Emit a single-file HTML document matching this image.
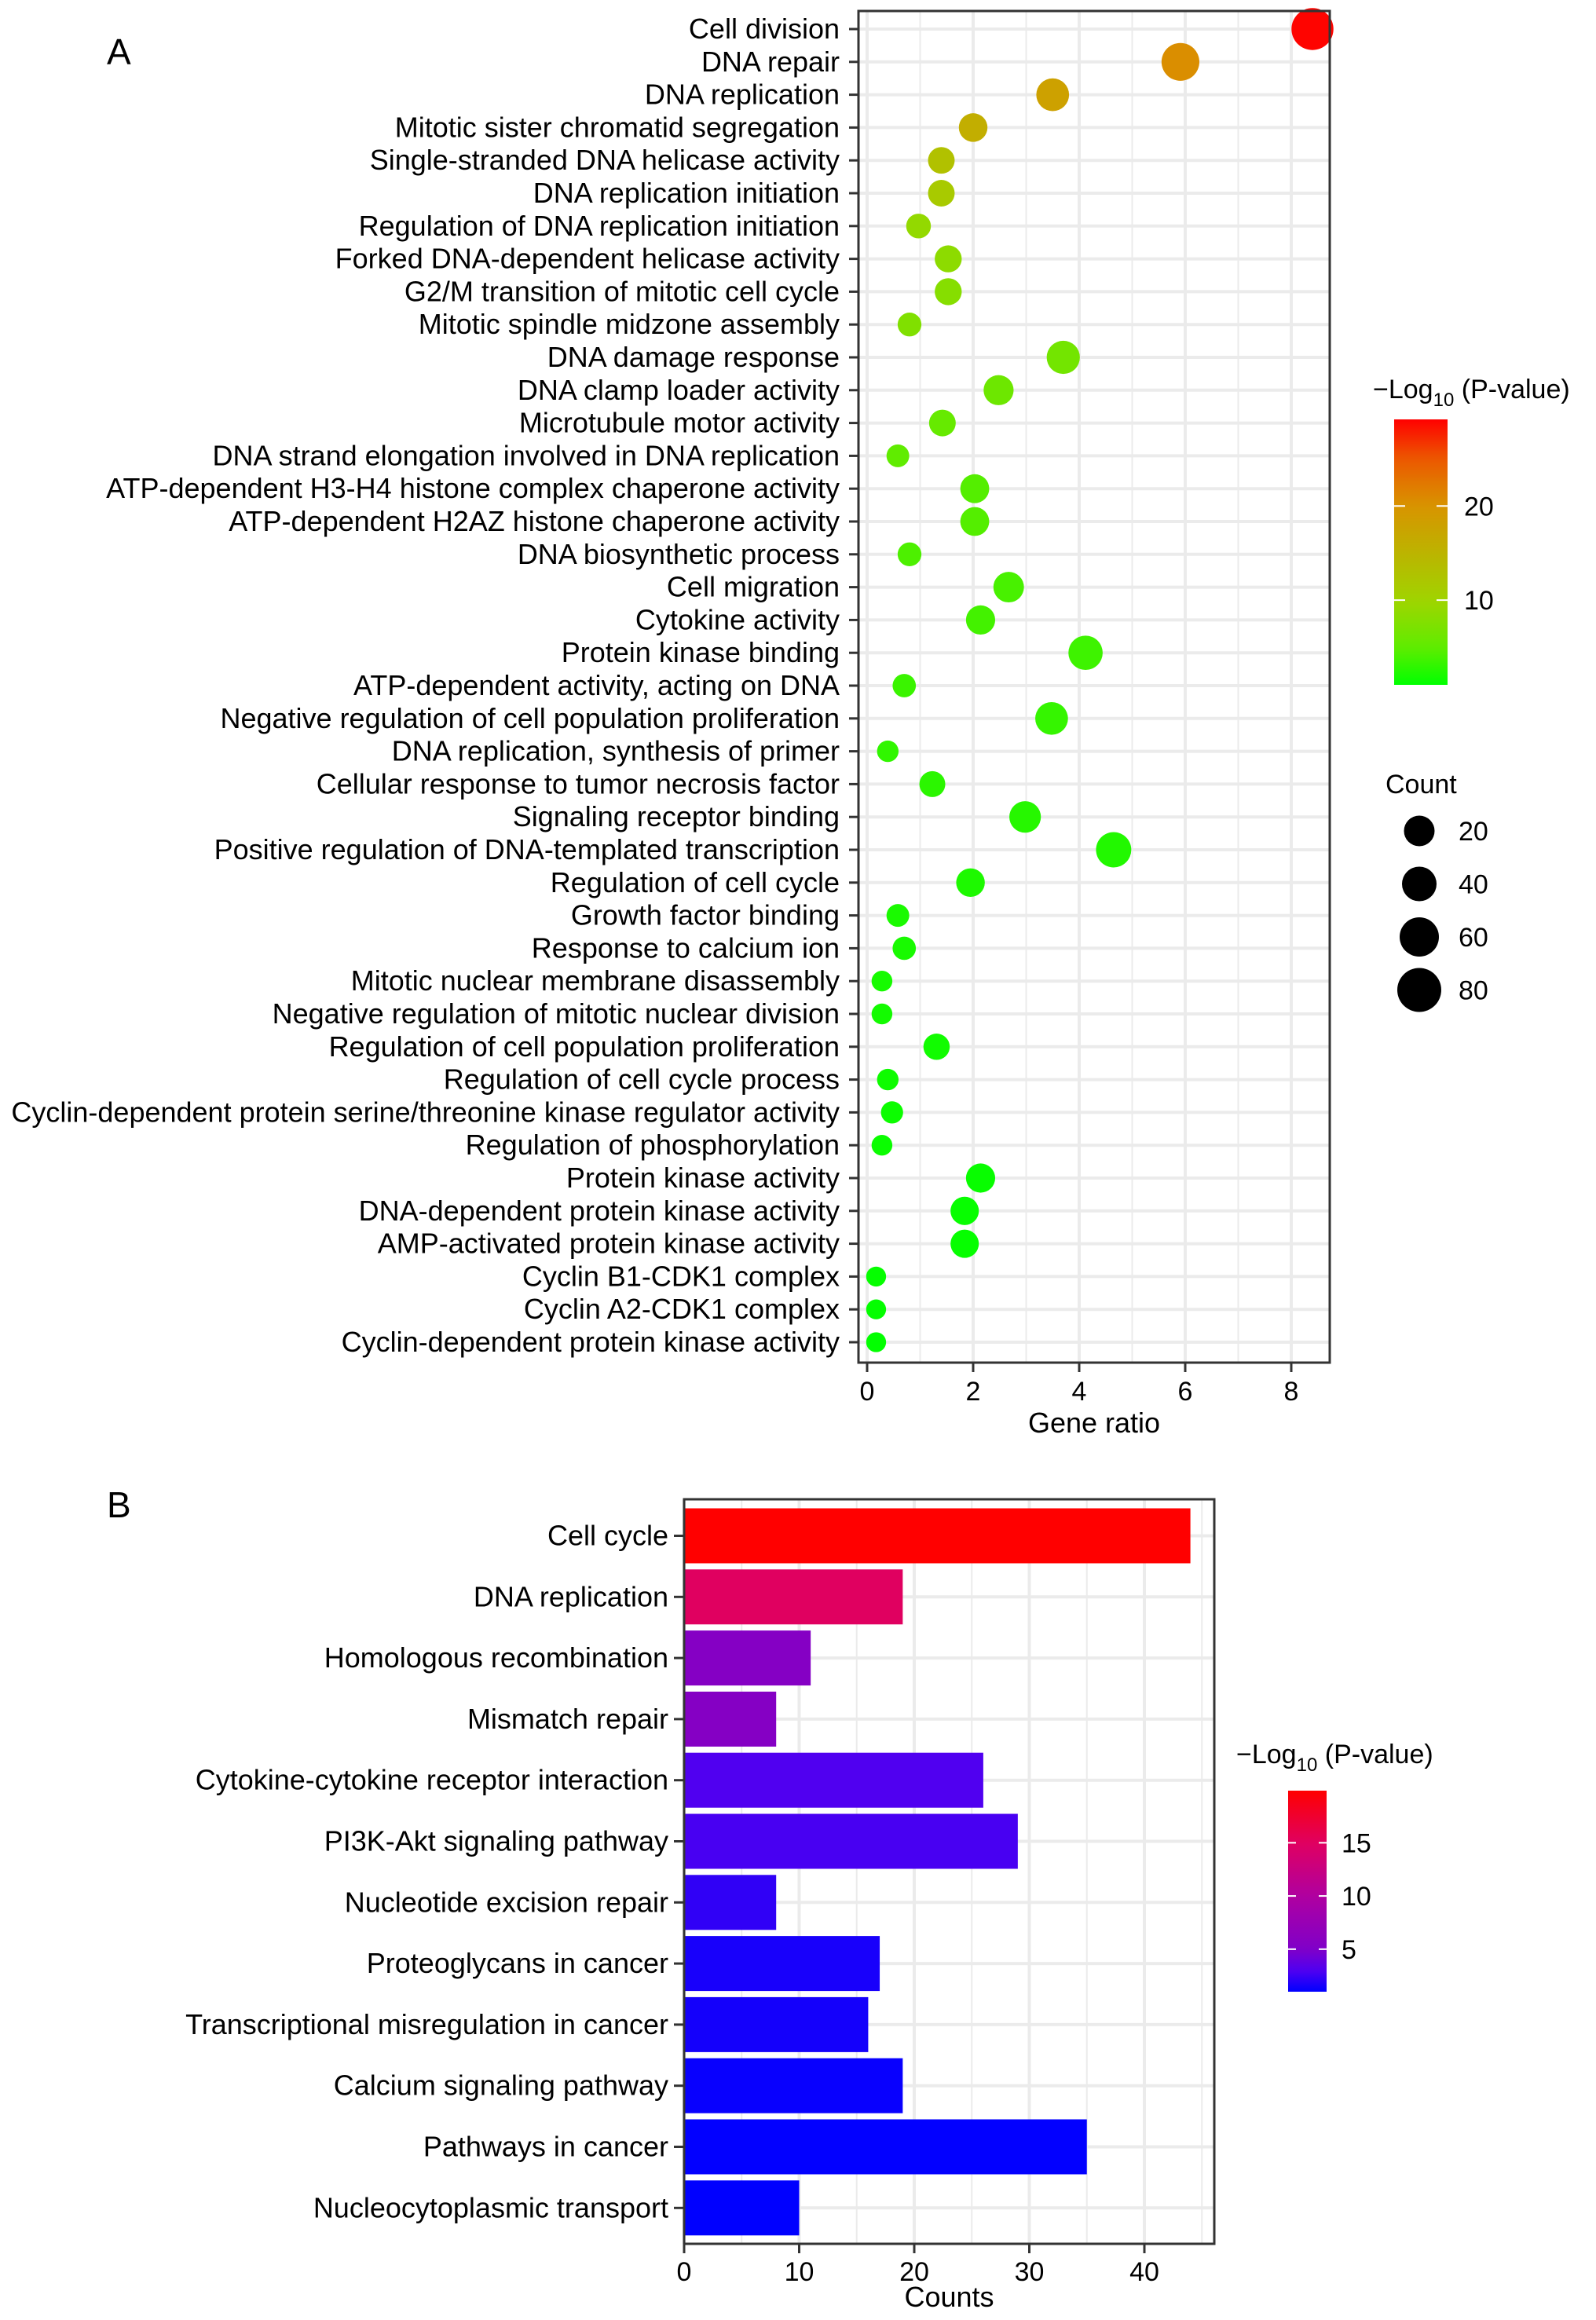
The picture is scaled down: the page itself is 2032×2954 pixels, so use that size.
<!DOCTYPE html>
<html><head><meta charset="utf-8"><style>
html,body{margin:0;padding:0;background:#fff;}
svg{display:block;font-family:"Liberation Sans",Arial,sans-serif;}
</style></head><body>
<svg id="chart" width="2032" height="2954" viewBox="0 0 2032 2954" xmlns="http://www.w3.org/2000/svg">
<defs>
<linearGradient id="gA" x1="0" y1="1" x2="0" y2="0"></linearGradient>
<linearGradient id="gB" x1="0" y1="1" x2="0" y2="0"></linearGradient>
</defs>
<rect width="2032" height="2954" fill="#fff"/>
<text x="136" y="82" font-size="46">A</text>
<text x="136" y="1932" font-size="46">B</text>
<g id="pa"></g>
<g id="pb"></g>
</svg>
<script>
// Panel A data
const termsA = ["Cell division","DNA repair","DNA replication","Mitotic sister chromatid segregation","Single-stranded DNA helicase activity","DNA replication initiation","Regulation of DNA replication initiation","Forked DNA-dependent helicase activity","G2/M transition of mitotic cell cycle","Mitotic spindle midzone assembly","DNA damage response","DNA clamp loader activity","Microtubule motor activity","DNA strand elongation involved in DNA replication","ATP-dependent H3-H4 histone complex chaperone activity","ATP-dependent H2AZ histone chaperone activity","DNA biosynthetic process","Cell migration","Cytokine activity","Protein kinase binding","ATP-dependent activity, acting on DNA","Negative regulation of cell population proliferation","DNA replication, synthesis of primer","Cellular response to tumor necrosis factor","Signaling receptor binding","Positive regulation of DNA-templated transcription","Regulation of cell cycle","Growth factor binding","Response to calcium ion","Mitotic nuclear membrane disassembly","Negative regulation of mitotic nuclear division","Regulation of cell population proliferation","Regulation of cell cycle process","Cyclin-dependent protein serine/threonine kinase regulator activity","Regulation of phosphorylation","Protein kinase activity","DNA-dependent protein kinase activity","AMP-activated protein kinase activity","Cyclin B1-CDK1 complex","Cyclin A2-CDK1 complex","Cyclin-dependent protein kinase activity"];
const ratioA = [8.4,5.91,3.5,2.0,1.4,1.4,0.97,1.53,1.53,0.8,3.7,2.48,1.42,0.58,2.03,2.03,0.8,2.67,2.14,4.12,0.7,3.48,0.39,1.23,2.98,4.65,1.95,0.58,0.7,0.28,0.28,1.31,0.39,0.47,0.28,2.14,1.84,1.84,0.17,0.17,0.17];
const countA = [89,63,37,21,15,15,10,16,16,8,39,26,15,6,22,22,8,28,23,44,7,37,4,13,32,49,21,6,7,3,3,14,4,5,3,23,20,20,2,2,2];
const pvalA = [29,20.5,18,16,13,11.5,9,8.5,8,7.5,6.5,6,5.5,5,4.5,4.5,4.2,4,3.8,3.6,3.4,3.2,3,2.8,2.6,2.4,2.2,2.1,2,1.9,1.8,1.7,1.6,1.5,1.4,1.35,1.3,1.25,1.2,1.15,1.1];
const xTicksA = [0,2,4,6,8];
const cbTicksA = [10,20];
const sizeLegend = [20,40,60,80];
// Panel B data
const termsB = ["Cell cycle","DNA replication","Homologous recombination","Mismatch repair","Cytokine-cytokine receptor interaction","PI3K-Akt signaling pathway","Nucleotide excision repair","Proteoglycans in cancer","Transcriptional misregulation in cancer","Calcium signaling pathway","Pathways in cancer","Nucleocytoplasmic transport"];
const countB = [44,19,11,8,26,29,8,17,16,19,35,10];
const pvalB = [19.9,15,5.5,5.5,3,2.8,2.2,1.6,1.5,1.2,1.05,1.0];
const xTicksB = [0,10,20,30,40];
const cbTicksB = [5,10,15];

const NS="http://www.w3.org/2000/svg";
function mk(tag,attrs,parent,txt){const e=document.createElementNS(NS,tag);for(const k in attrs)e.setAttribute(k,attrs[k]);if(txt!==undefined)e.textContent=txt;parent.appendChild(e);return e;}
function hx(h){return [parseInt(h.substr(1,2),16),parseInt(h.substr(3,2),16),parseInt(h.substr(5,2),16)];}
// piecewise colour scale: stops as [value, colour]
function scale(st){return p=>{if(p<=st[0][0])return st[0][1];for(let i=1;i<st.length;i++){if(p<=st[i][0]){const t=(p-st[i-1][0])/(st[i][0]-st[i-1][0]);const a=hx(st[i-1][1]),b=hx(st[i][1]);
return "rgb("+a.map((v,k)=>Math.round(v+(b[k]-v)*t)).join(",")+")";}}return st[st.length-1][1];};}
const pMinA=1.0,pMaxA=29.2,pMinB=1.0,pMaxB=19.9;
const colA=scale([[1,'#00FF00'],[5,'#60EC00'],[10,'#A0D400'],[20,'#D89400'],[25,'#EC5800'],[29.2,'#FF0000']]);
const colB=scale([[1,'#0000FF'],[3,'#5000F0'],[5,'#8000C8'],[10,'#B000A0'],[15,'#E00060'],[19.9,'#FF0000']]);
function stops(id,f,lo,hi){const g=document.getElementById(id);for(let i=0;i<=30;i++){mk('stop',{offset:(i/30),'stop-color':f(lo+(hi-lo)*i/30)},g);}}
stops('gA',colA,pMinA,pMaxA);stops('gB',colB,pMinB,pMaxB);

// ---- Panel A ----
const pa=document.getElementById('pa');
const A={l:1093,r:1693,t:14,b:1735,x0:1104,unit:67.5,y0:37,dy:41.8};
const xA=v=>A.x0+v*A.unit;
const yA=i=>A.y0+i*A.dy;
const rA=c=>10.2+1.75*Math.sqrt(c);
for(let v=0;v<=8.7;v+=1){const minor=(v%2)!==0;const l=mk('line',{x1:xA(v),x2:xA(v),y1:A.t,y2:A.b,stroke:'#EBEBEB','stroke-width':minor?2:4},pa);
}
termsA.forEach((t,i)=>{const l=mk('line',{x1:A.l,x2:A.r,y1:yA(i),y2:yA(i),stroke:'#EBEBEB','stroke-width':4},pa);
});
termsA.forEach((t,i)=>{
const c=mk('circle',{cx:xA(ratioA[i]),cy:yA(i),r:rA(countA[i]),fill:colA(pvalA[i])},pa);

const tk=mk('line',{x1:A.l-12,x2:A.l,y1:yA(i),y2:yA(i),stroke:'#333','stroke-width':3},pa);

const tx=mk('text',{x:A.l-24,y:yA(i)+12,'font-size':36,'text-anchor':'end',fill:'#000'},pa,t);

});
let bA=mk('rect',{x:A.l,y:A.t,width:A.r-A.l,height:A.b-A.t,fill:'none',stroke:'#333','stroke-width':3},pa);

xTicksA.forEach(v=>{const tk=mk('line',{x1:xA(v),x2:xA(v),y1:A.b,y2:A.b+12,stroke:'#333','stroke-width':3},pa);

const tx=mk('text',{x:xA(v),y:A.b+48,'font-size':34,'text-anchor':'middle'},pa,String(v));
});
let xlA=mk('text',{x:(A.l+A.r)/2,y:1824,'font-size':36,'text-anchor':'middle'},pa,'Gene ratio');

const cbA={x:1775,w:68,t:534,b:872};
let ltA=mk('text',{x:1748,y:507,'font-size':34},pa);ltA.innerHTML='−Log<tspan font-size="24" dy="10">10</tspan><tspan dy="-10"> (P-value)</tspan>';

let rbA=mk('rect',{x:cbA.x,y:cbA.t,width:cbA.w,height:cbA.b-cbA.t,fill:'url(#gA)'},pa);

const cyA=p=>cbA.b-(p-pMinA)/(pMaxA-pMinA)*(cbA.b-cbA.t);
cbTicksA.forEach(v=>{mk('line',{x1:cbA.x,x2:cbA.x+14,y1:cyA(v),y2:cyA(v),stroke:'#fff','stroke-width':2},pa);
mk('line',{x1:cbA.x+cbA.w-14,x2:cbA.x+cbA.w,y1:cyA(v),y2:cyA(v),stroke:'#fff','stroke-width':2},pa);
const tx=mk('text',{x:1864,y:cyA(v)+12,'font-size':34},pa,String(v));
});
let ltS=mk('text',{x:1764,y:1010,'font-size':34},pa,'Count');

const legR=[19.5,22,25,28];
sizeLegend.forEach((v,i)=>{const y=1058+i*67.5;
const c=mk('circle',{cx:1807,cy:y,r:legR[i],fill:'#000'},pa);
const tx=mk('text',{x:1857,y:y+12,'font-size':34},pa,String(v));});

// ---- Panel B ----
const pb=document.getElementById('pb');
const B={l:871,r:1546,t:1909,b:2857,x0:871,unit:14.65,y0:1955.5,dy:77.8,bh:70};
const xB=v=>B.x0+v*B.unit;
const yB=i=>B.y0+i*B.dy;
for(let v=0;v<=46;v+=5){const minor=(v%10)!==0;const l=mk('line',{x1:xB(v),x2:xB(v),y1:B.t,y2:B.b,stroke:'#EBEBEB','stroke-width':minor?2:4},pb);
}
termsB.forEach((t,i)=>{const l=mk('line',{x1:B.l,x2:B.r,y1:yB(i),y2:yB(i),stroke:'#EBEBEB','stroke-width':4},pb);
});
termsB.forEach((t,i)=>{
const r=mk('rect',{x:xB(0),y:yB(i)-B.bh/2,width:xB(countB[i])-xB(0),height:B.bh,fill:colB(pvalB[i])},pb);

const tk=mk('line',{x1:B.l-13,x2:B.l,y1:yB(i),y2:yB(i),stroke:'#333','stroke-width':3},pb);

const tx=mk('text',{x:B.l-20,y:yB(i)+12,'font-size':36,'text-anchor':'end'},pb,t);
});
let bB=mk('rect',{x:B.l,y:B.t,width:B.r-B.l,height:B.b-B.t,fill:'none',stroke:'#333','stroke-width':3},pb);

xTicksB.forEach(v=>{const tk=mk('line',{x1:xB(v),x2:xB(v),y1:B.b,y2:B.b+12,stroke:'#333','stroke-width':3},pb);

const tx=mk('text',{x:xB(v),y:B.b+47,'font-size':34,'text-anchor':'middle'},pb,String(v));
});
let xlB=mk('text',{x:(B.l+B.r)/2,y:2937,'font-size':36,'text-anchor':'middle'},pb,'Counts');

const cbB={x:1640,w:49,t:2280,b:2536};
let ltB=mk('text',{x:1574,y:2245,'font-size':34},pb);ltB.innerHTML='−Log<tspan font-size="24" dy="10">10</tspan><tspan dy="-10"> (P-value)</tspan>';

let rbB=mk('rect',{x:cbB.x,y:cbB.t,width:cbB.w,height:cbB.b-cbB.t,fill:'url(#gB)'},pb);

const cyB=p=>cbB.b-(p-pMinB)/(pMaxB-pMinB)*(cbB.b-cbB.t);
cbTicksB.forEach(v=>{mk('line',{x1:cbB.x,x2:cbB.x+10,y1:cyB(v),y2:cyB(v),stroke:'#fff','stroke-width':2},pb);
mk('line',{x1:cbB.x+cbB.w-10,x2:cbB.x+cbB.w,y1:cyB(v),y2:cyB(v),stroke:'#fff','stroke-width':2},pb);
const tx=mk('text',{x:1708,y:cyB(v)+12,'font-size':34},pb,String(v));
});
</script>
</body></html>
